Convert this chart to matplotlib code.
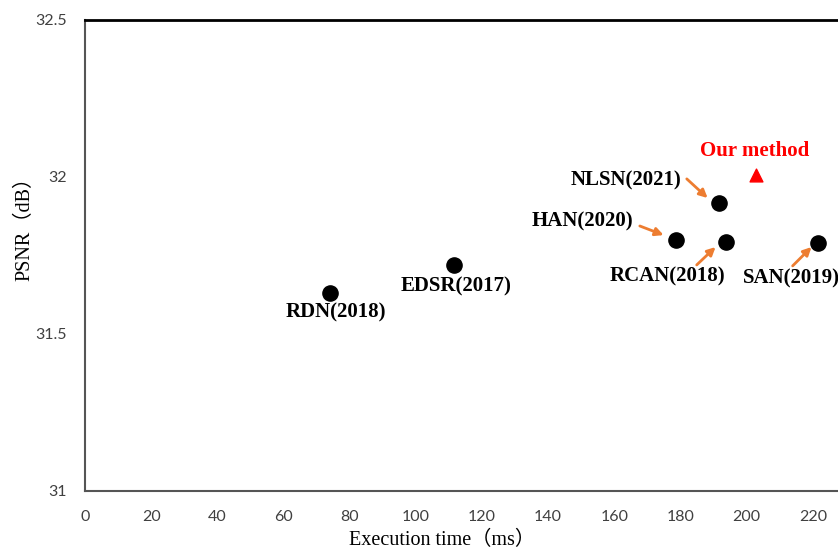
import matplotlib.pyplot as plt

# data
methods = ['RDN(2018)', 'EDSR(2017)', 'HAN(2020)', 'NLSN(2021)', 'RCAN(2018)', 'SAN(2019)']
times = [74.0, 111.5, 178.5, 191.5, 193.7, 221.5]
psnr = [31.63, 31.72, 31.80, 31.917, 31.793, 31.79]
our_time = 202.7
our_psnr = 32.006

plt.rcParams['font.family'] = ['Liberation Serif', 'Noto Sans CJK SC', 'DejaVu Sans']

fig = plt.figure(figsize=(8.38, 5.49), dpi=100)
# axes runs past the right edge, like the cropped original
ax = fig.add_axes([85 / 838, 58 / 549, 794 / 838, 471 / 549])

ax.scatter(times, psnr, s=120, color='black', zorder=3)
ax.scatter([our_time], [our_psnr], s=85, marker='^', color='red', zorder=3)

ax.set_xlim(0, 240)
ax.set_ylim(31, 32.5)
ax.set_xticks(range(0, 241, 20))
ax.set_yticks([31, 31.5, 32, 32.5])
ax.set_yticklabels(['31', '31.5', '32', '32.5'])
ax.tick_params(length=0, labelsize=11.5, colors='#404040')
ax.tick_params(axis='x', pad=14)
ax.tick_params(axis='y', pad=13)
for lab in ax.get_xticklabels() + ax.get_yticklabels():
    lab.set_family('Lato')

ax.spines['top'].set_linewidth(2)
ax.spines['top'].set_color('black')
for s in ['left', 'bottom', 'right']:
    ax.spines[s].set_color('#555555')
    ax.spines[s].set_linewidth(1.5)

ax.set_xlabel('Execution time（ms）', fontsize=14.5, va='top')
ax.xaxis.set_label_coords(0.45, -0.085)
ax.set_ylabel('PSNR（dB）', fontsize=14.5, va='bottom')
ax.yaxis.set_label_coords(-0.064, 0.567)

# labels
lab_kw = dict(fontsize=15, fontweight='bold', ha='center', va='center')
ax.text(75.8, 31.567, methods[0], **lab_kw)
ax.text(112.1, 31.65, methods[1], **lab_kw)
ax.text(150.5, 31.857, methods[2], **lab_kw)
ax.text(163.4, 31.99, methods[3], **lab_kw)
ax.text(176.1, 31.682, methods[4], **lab_kw)
ax.text(213.6, 31.678, methods[5], **lab_kw)
ax.text(202.4, 32.083, 'Our method', color='red', **lab_kw)

# arrows
arr = dict(arrowstyle='-|>', color='#ED7D31', lw=2, mutation_scale=12, shrinkA=0, shrinkB=0)
ax.annotate('', xy=(174.9, 31.815), xytext=(167.7, 31.844), arrowprops=arr)
ax.annotate('', xy=(188.2, 31.933), xytext=(181.9, 31.994), arrowprops=arr)
ax.annotate('', xy=(190.6, 31.777), xytext=(184.9, 31.720), arrowprops=arr)
ax.annotate('', xy=(219.6, 31.777), xytext=(213.9, 31.717), arrowprops=arr)

fig.savefig('out.png', dpi=100)
